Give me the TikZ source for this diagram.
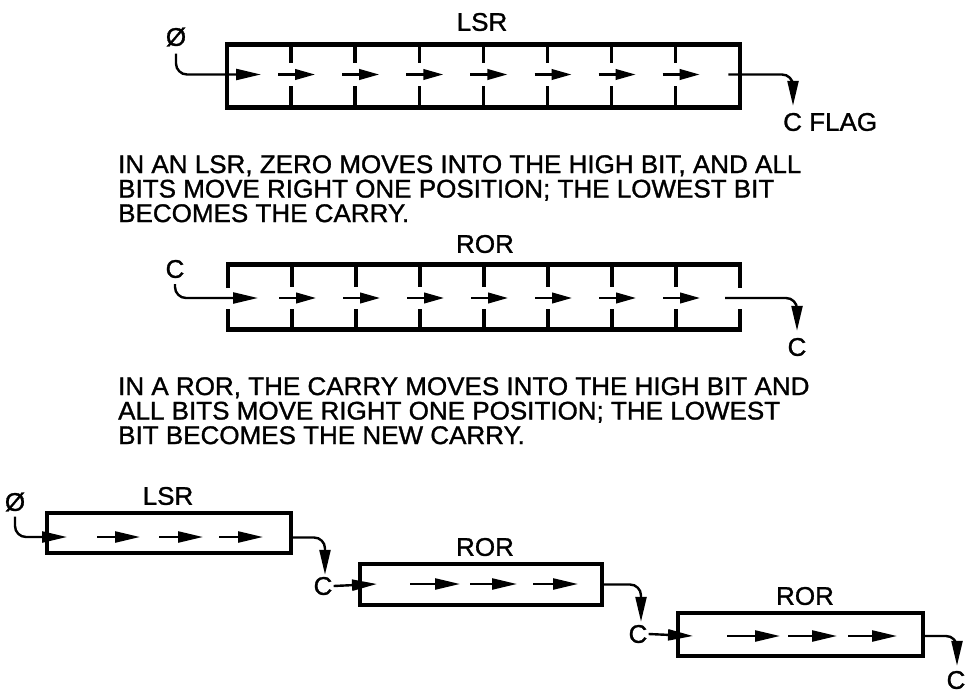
\documentclass[tikz,border=0pt]{standalone}
\usepackage{fontspec}
\setmainfont{Liberation Sans}[FakeStretch=1.02, FakeBold=1.2]
\usetikzlibrary{arrows.meta,positioning}

\tikzset{
  lbl/.style={font=\fontsize{25.5}{24.5}\selectfont, inner sep=0pt},
  reg/.style={draw, line width=4.5pt, inner sep=0pt},
  wall/.style={line width=4.5pt},
  divider/.style={line width=3.5pt},
  bit/.style={line width=2.4pt, -{Triangle[length=20pt,width=10.5pt]}},
  longbit/.style={line width=2.4pt, -{Triangle[length=25pt,width=11pt]}},
  hop/.style={longbit, rounded corners=11pt}
}

\begin{document}
\begin{tikzpicture}[x=1pt, y=-1pt]
  \useasboundingbox (0,0) rectangle (969,693);

  % LSR, eight bits
  \node[lbl] (lsrname) at (482,22) {LSR};
  \node[reg, minimum width=513pt, minimum height=63pt] (lsr) at (483.5,76) {};
  \foreach \i in {1,...,7} {
    \draw[divider] ({227+64.1*\i},44.5) -- ++(0,19) ({227+64.1*\i},86) -- ++(0,21.5);
    \draw[bit] ({214+64.1*\i},74.5) -- ++(37,0);
  }
  \node[lbl] (zero1) at (176,37) {Ø};
  \coordinate (lsrin) at (261,74.5);
  \draw[hop] ([yshift=-7pt]zero1.south) |- (lsrin);
  \node[lbl, anchor=west] (flag) at (783,122) {C FLAG};
  \draw[hop] ([xshift=-14pt,yshift=1.5pt]lsr.east) -| ([xshift=10pt,yshift=7pt]flag.north west);

  \node[lbl, anchor=north west, align=left] (lsrtext) at (118,155)
    {IN AN LSR, ZERO MOVES INTO THE HIGH BIT, AND ALL\\
     BITS MOVE RIGHT ONE POSITION; THE LOWEST BIT\\
     BECOMES THE CARRY.};

  % ROR, eight bits
  \node[lbl] (rorname) at (485,244) {ROR};
  \node[inner sep=0pt, minimum width=512pt, minimum height=65pt] (ror) at (484,297) {};
  \draw[wall] (228,288) |- (740,264.5) -- (740,288)
              (228,309) |- (740,329.5) -- (740,309);
  \foreach \i in {1,...,7} {
    \draw[divider] ({228+64*\i},264.5) -- ++(0,22.5) ({228+64*\i},309) -- ++(0,20.5);
    \draw[bit] ({215+64*\i},298) -- ++(37,0);
  }
  \node[lbl] (carryin) at (175,269) {C};
  \coordinate (rorin) at (258,298);
  \draw[hop] ([yshift=-6pt]carryin.south) |- (rorin);
  \node[lbl] (carryout) at (797,347) {C};
  \draw[hop] ([xshift=-15pt,yshift=-1pt]ror.east) -| ([yshift=7pt]carryout.north);

  \node[lbl, anchor=north west, align=left] (rortext) at (118,377)
    {IN A ROR, THE CARRY MOVES INTO THE HIGH BIT AND\\
     ALL BITS MOVE RIGHT ONE POSITION; THE LOWEST\\
     BIT BECOMES THE NEW CARRY.};

  % chained: LSR then ROR then ROR
  \node[lbl] (zero2) at (15,502) {Ø};
  \node[lbl] (lsrAname) at (168,496) {LSR};
  \node[reg, line width=4pt, minimum width=244pt, minimum height=40pt] (lsrA) at (169,533) {};
  \foreach \a/\b in {97/140, 159/203, 219/263}
    \draw[longbit] (\a,537) -- (\b,537);
  \coordinate (lsrAin) at (67,537);
  \draw[hop] ([yshift=-5pt]zero2.south) |- (lsrAin);
  \node[lbl] (carryA) at (323,586) {C};
  \draw[hop] ([yshift=-4.5pt]lsrA.east) -| ([xshift=2pt,yshift=2pt]carryA.north);

  \node[lbl] (rorBname) at (485,547) {ROR};
  \node[reg, line width=4pt, minimum width=242pt, minimum height=41pt] (rorB) at (481,584.5) {};
  \foreach \a/\b in {410/460, 470/517, 533/578}
    \draw[longbit] (\a,584) -- (\b,584);
  \coordinate (rorBin) at (377,584);
  \draw[longbit] ([xshift=1pt]carryA.east) -- (rorBin);
  \node[lbl] (carryB) at (638,634) {C};
  \draw[hop] (rorB.east) -| ([xshift=3pt,yshift=3pt]carryB.north);

  \node[lbl] (rorCname) at (805,596) {ROR};
  \node[reg, line width=4pt, minimum width=245pt, minimum height=43pt] (rorC) at (800.5,634.5) {};
  \foreach \a/\b in {727/780, 788/837, 848/897}
    \draw[longbit] (\a,636) -- (\b,636);
  \coordinate (rorCin) at (693,636);
  \draw[longbit] ([xshift=1pt]carryB.east) -- (rorCin);
  \node[lbl] (carryC) at (956,680) {C};
  \draw[hop] ([yshift=-1.5pt]rorC.east) -| ([xshift=1pt,yshift=5pt]carryC.north);
\end{tikzpicture}
\end{document}
